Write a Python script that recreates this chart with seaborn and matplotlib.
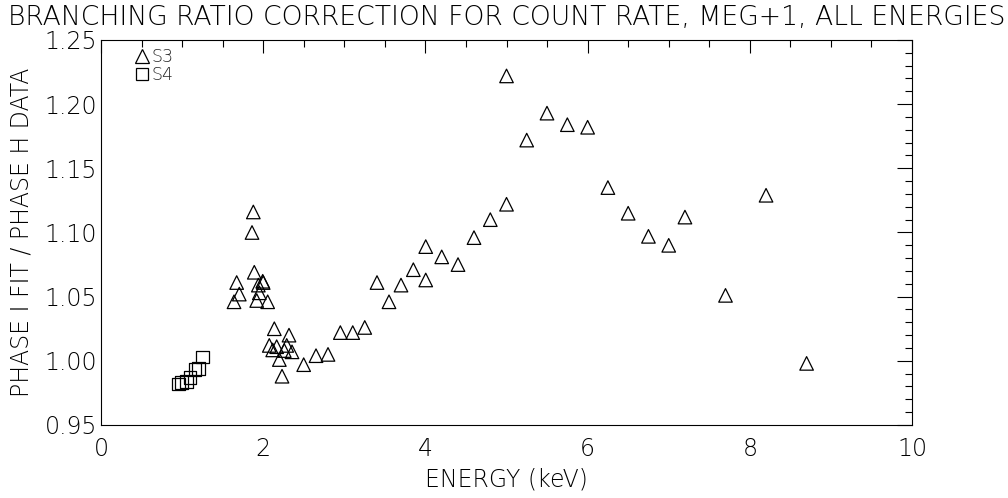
import numpy as np
import pandas as pd
import seaborn as sns
import matplotlib
matplotlib.use("Agg")
import matplotlib.pyplot as plt
from matplotlib.lines import Line2D
from matplotlib.ticker import MultipleLocator, FormatStrFormatter

# ---- data ----
s3_energy = [1.64, 1.673, 1.705, 1.862, 1.878, 1.89, 1.92, 1.94, 1.952, 1.994,
             2.0, 2.055, 2.075, 2.117, 2.137, 2.166, 2.199, 2.232, 2.26, 2.29,
             2.318, 2.355, 2.499, 2.651, 2.799, 2.951, 3.104, 3.252, 3.403, 3.551,
             3.699, 3.851, 4.004, 4.004, 4.201, 4.402, 4.599, 4.800, 5.0, 5.0,
             5.249, 5.499, 5.750, 6.0, 6.25, 6.5, 6.75, 7.0, 7.2, 7.7, 8.2, 8.7]
s3_ratio = [1.046, 1.061, 1.052, 1.100, 1.116, 1.069, 1.047, 1.059, 1.053, 1.062,
            1.061, 1.046, 1.012, 1.0085, 1.025, 1.011, 1.001, 0.988, 1.008, 1.012,
            1.020, 1.007, 0.997, 1.004, 1.005, 1.022, 1.022, 1.026, 1.061, 1.046,
            1.059, 1.071, 1.063, 1.089, 1.081, 1.075, 1.096, 1.110, 1.122, 1.222,
            1.172, 1.193, 1.184, 1.182, 1.135, 1.115, 1.097, 1.090, 1.112, 1.051,
            1.129, 0.998]

s4_energy = [0.953, 0.995, 1.057, 1.097, 1.159, 1.2, 1.249]
s4_ratio = [0.982, 0.983, 0.984, 0.987, 0.9935, 0.994, 1.003]

series_labels = ["S3", "S4"]
title_text = "BRANCHING RATIO CORRECTION FOR COUNT RATE, MEG+1, ALL ENERGIES"
x_label = "ENERGY (keV)"
y_label = "PHASE I FIT / PHASE H DATA"

df3 = pd.DataFrame({"energy": s3_energy, "ratio": s3_ratio})
df4 = pd.DataFrame({"energy": s4_energy, "ratio": s4_ratio})

sns.set_theme(style="white")
plt.rcParams["font.family"] = ["DejaVu Sans"]
plt.rcParams["font.weight"] = "light"
plt.rcParams["axes.labelweight"] = "light"
plt.rcParams["axes.titleweight"] = "light"

FS = 17

fig = plt.figure(figsize=(10.08, 4.98), dpi=100)
ax = fig.add_axes([0.1002, 0.1466, 0.8046, 0.7731])

sns.scatterplot(data=df3, x="energy", y="ratio", marker="^", s=95,
                facecolors="none", edgecolors="black", linewidths=0.9, ax=ax)
sns.scatterplot(data=df4, x="energy", y="ratio", marker="s", s=85,
                facecolors="none", edgecolors="black", linewidths=0.9, ax=ax)

ax.set_xlim(0, 10)
ax.set_ylim(0.95, 1.25)
ax.xaxis.set_major_locator(MultipleLocator(2))
ax.xaxis.set_minor_locator(MultipleLocator(0.5))
ax.yaxis.set_major_locator(MultipleLocator(0.05))
ax.yaxis.set_minor_locator(MultipleLocator(0.01))
ax.yaxis.set_major_formatter(FormatStrFormatter("%.2f"))
ax.xaxis.set_major_formatter(FormatStrFormatter("%d"))

ax.tick_params(axis="both", which="both", direction="in", top=True, right=True,
               color="black", width=0.8, labelsize=FS, labelcolor="black")
ax.tick_params(axis="y", which="major", length=10.5, pad=3)
ax.tick_params(axis="y", which="minor", length=5)
ax.tick_params(axis="x", which="major", length=9, pad=9)
ax.tick_params(axis="x", which="minor", length=5)

for sp in ax.spines.values():
    sp.set_color("black")
    sp.set_linewidth(0.8)

ax.set_xlabel(x_label, fontsize=FS, color="black", labelpad=4, fontweight="light")
ax.set_ylabel(y_label, fontsize=FS, color="black", labelpad=8, fontweight="light")
ax.set_title(title_text, fontsize=FS + 2.2, color="black", pad=11, fontweight="light")

handles = [
    Line2D([], [], marker="^", ls="none", mfc="none", mec="black", mew=0.9, ms=9.6),
    Line2D([], [], marker="s", ls="none", mfc="none", mec="black", mew=0.9, ms=9.0),
]
ax.legend(handles, series_labels, loc="upper left", bbox_to_anchor=(0.035, 1.0),
          frameon=False, prop={"size": 12.5, "weight": "light"},
          handlelength=0.6, handletextpad=0.2,
          labelspacing=0.0, borderaxespad=0.2, borderpad=0.25)

fig.savefig("out.png", dpi=100, facecolor="white")
